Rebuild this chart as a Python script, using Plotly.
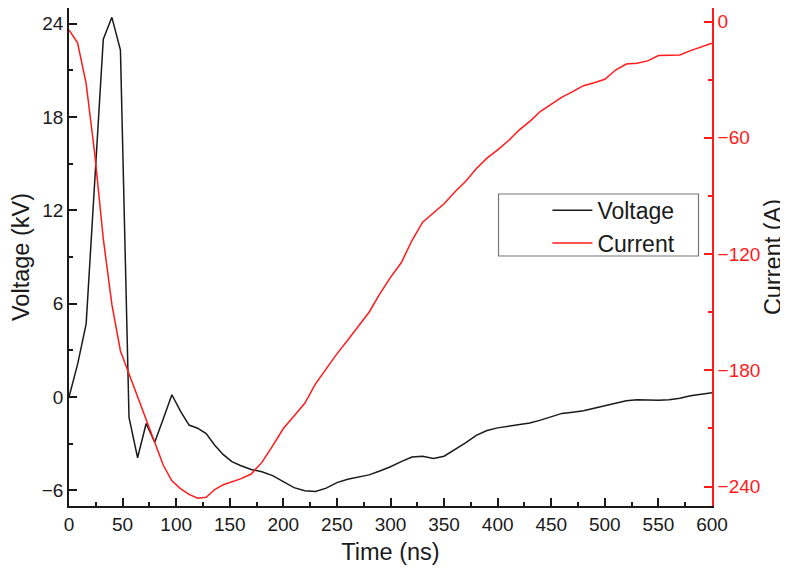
import plotly.graph_objects as go

time_v = [0, 8, 16, 24, 32, 40, 48, 56, 64, 72, 80, 88, 96, 104, 112, 120, 128, 136, 144, 152, 160,
          170, 180, 190, 200, 210, 220, 230, 240, 250, 260, 270, 280, 290, 300, 310, 320, 330, 340,
          350, 360, 370, 380, 390, 400, 410, 420, 430, 440, 450, 460, 470, 480, 490, 500, 510, 520,
          530, 540, 550, 560, 570, 580, 590, 600]
voltage = [0, 2.1, 4.7, 13.5, 23.0, 24.4, 22.3, -1.3, -3.9, -1.7, -2.9, -1.4, 0.15, -0.9, -1.8, -2.0,
           -2.35, -3.1, -3.7, -4.15, -4.4, -4.65, -4.8, -5.05, -5.45, -5.82, -6.02, -6.07, -5.85, -5.5,
           -5.28, -5.15, -5.0, -4.75, -4.48, -4.15, -3.85, -3.8, -3.95, -3.8, -3.4, -2.95, -2.46, -2.15,
           -1.98, -1.88, -1.78, -1.67, -1.48, -1.25, -1.05, -0.97, -0.88, -0.72, -0.55, -0.37, -0.24,
           -0.18, -0.19, -0.21, -0.17, -0.08, 0.08, 0.2, 0.28]

time_c = time_v
current = [-4.3, -11, -32, -68, -112, -146, -170, -182, -194, -205, -218, -229, -237, -241, -244, -246,
           -245.5, -241.5, -239, -237.5, -236, -233.5, -227.5, -219, -210, -203.5, -197, -187, -179,
           -171.5, -164.5, -157.5, -150, -140.5, -132, -124.5, -113, -103.5, -98.5, -94, -88, -82.5,
           -76, -70.5, -66.2, -61.5, -56, -51.5, -46.3, -42.5, -39, -36.2, -33.1, -31.6, -29.8, -25,
           -21.9, -21.5, -20.3, -17.5, -17.2, -17.2, -15, -13.2, -11.2]

font_family = "Liberation Sans, Arial, sans-serif"
ink = "#1a1a1a"
red = "#ff1a1a"

fig = go.Figure()
fig.add_trace(go.Scatter(x=time_v, y=voltage, mode="lines", name="Voltage",
                         line=dict(color=ink, width=1.5), yaxis="y"))
fig.add_trace(go.Scatter(x=time_c, y=current, mode="lines", name="Current",
                         line=dict(color=red, width=1.5), yaxis="y2"))

fig.update_layout(
    width=780, height=563,
    margin=dict(l=61, r=76, t=0, b=65, autoexpand=False),
    paper_bgcolor="white", plot_bgcolor="white",
    font=dict(family=font_family, size=19, color=ink),
    showlegend=True,
    legend=dict(x=0.744, y=0.637, xanchor="left", yanchor="top",
                bgcolor="rgba(0,0,0,0)", borderwidth=0,
                font=dict(size=23, color=ink), tracegroupgap=0, itemwidth=40),
    xaxis=dict(range=[0, 600], tick0=0, dtick=50, ticks="inside", ticklen=8, tickwidth=1.5,
               tickcolor=ink, showline=True, linecolor=ink, linewidth=1.5,
               mirror=True, showgrid=False, zeroline=False, automargin=False,
               minor=dict(dtick=25, ticks="inside", ticklen=4, tickwidth=1.5, tickcolor=ink),
               title=dict(text="Time (ns)", font=dict(size=23.5), standoff=10),
               tickfont=dict(size=19)),
    yaxis=dict(range=[-7, 25], tick0=0, dtick=6, ticks="inside", ticklen=8, tickwidth=1.5,
               tickcolor=ink, showline=True, linecolor=ink, linewidth=1.5,
               showgrid=False, zeroline=False, automargin=False,
               minor=dict(dtick=3, ticks="inside", ticklen=4, tickwidth=1.5, tickcolor=ink),
               title=dict(text="Voltage (kV)", font=dict(size=23.5), standoff=10),
               tickfont=dict(size=19)),
    yaxis2=dict(range=[-250, 7], tick0=0, dtick=60, ticks="inside", ticklen=8, tickwidth=1.5,
                tickcolor=red, showline=True, linecolor=red, linewidth=1.5,
                overlaying="y", side="right", showgrid=False, zeroline=False, automargin=False,
                minor=dict(dtick=30, ticks="inside", ticklen=4, tickwidth=1.5, tickcolor=red),
                title=dict(text="Current (A)", font=dict(size=23.5, color=ink), standoff=4),
                tickfont=dict(size=19, color=red)),
    shapes=[dict(type="rect", xref="paper", yref="paper", x0=0.668, x1=0.979, y0=0.502, y1=0.6265,
                 line=dict(color="#777777", width=1.2), fillcolor="rgba(0,0,0,0)", layer="above")],
)

fig.write_html("out.html")
